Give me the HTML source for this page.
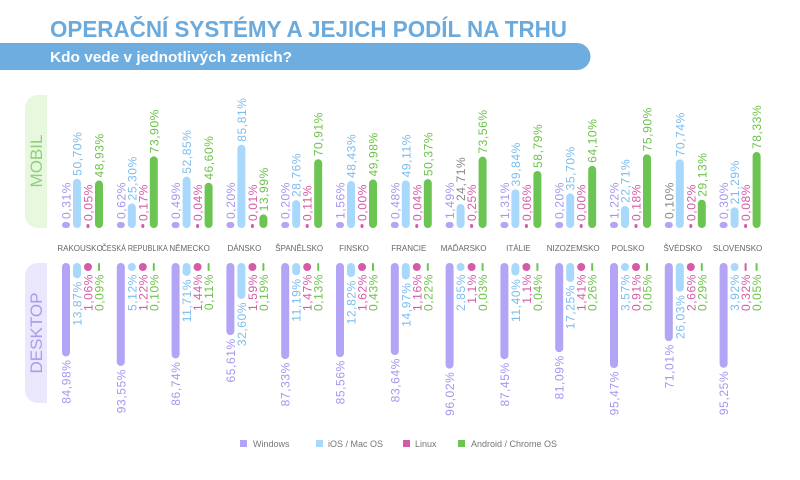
<!DOCTYPE html>
<html><head><meta charset="utf-8"><style>
body{margin:0;background:#fff;}
svg{display:block;font-family:"Liberation Sans",sans-serif;}
</style></head><body>
<svg id="s" width="800" height="480" xmlns="http://www.w3.org/2000/svg">
<text x="50" y="37" font-size="23" font-weight="bold" fill="#6aaadc" textLength="517" lengthAdjust="spacingAndGlyphs">OPERAČNÍ SYSTÉMY A JEJICH PODÍL NA TRHU</text>
<path d="M0 43 H577 a13.5 13.5 0 0 1 0 27 H0 Z" fill="#6eaddf"/>
<text x="50" y="62" font-size="14.5" font-weight="bold" fill="#fff" textLength="242" lengthAdjust="spacingAndGlyphs">Kdo vede v jednotlivých zemích?</text>
<path d="M47 95 H38 a13 13 0 0 0 -13 13 V215 a13 13 0 0 0 13 13 H47 Z" fill="#e7f8de"/>
<text transform="translate(42,161) rotate(-90)" text-anchor="middle" font-size="17" fill="#8fd07a">MOBIL</text>
<path d="M47 263 H38 a13 13 0 0 0 -13 13 V390 a13 13 0 0 0 13 13 H47 Z" fill="#ebe7fc"/>
<text transform="translate(42,333) rotate(-90)" text-anchor="middle" font-size="17" fill="#a99cf0">DESKTOP</text>
<g id="g"></g>
<g font-size="9" fill="#777">
<rect x="240" y="440" width="7" height="7" fill="#b3a4f5"/><text x="253" y="447">Windows</text>
<rect x="316" y="440" width="7" height="7" fill="#a8d8fb"/><text x="328" y="447">iOS / Mac OS</text>
<rect x="403" y="440" width="7" height="7" fill="#d65ba7"/><text x="415" y="447">Linux</text>
<rect x="458" y="440" width="7" height="7" fill="#6cc552"/><text x="471" y="447">Android / Chrome OS</text>
</g>
</svg>
<script>
var names=["RAKOUSKO","ČESKÁ REPUBLIKA","NĚMECKO","DÁNSKO","ŠPANĚLSKO","FINSKO","FRANCIE","MAĎARSKO","ITÁLIE","NIZOZEMSKO","POLSKO","ŠVÉDSKO","SLOVENSKO"];
var mob=[["0,31","50,70","0,05","48,93"],["0,62","25,30","0,17","73,90"],["0,49","52,85","0,04","46,60"],["0,20","85,81","0,01","13,99"],["0,20","28,76","0,11","70,91"],["1,56","48,43","0,00","49,98"],["0,48","49,11","0,04","50,37"],["1,49","24,71","0,25","73,56"],["1,31","39,84","0,06","58,79"],["0,20","35,70","0,00","64,10"],["1,22","22,71","0,18","75,90"],["0,10","70,74","0,02","29,13"],["0,30","21,29","0,08","78,33"]];
var desk=[["84,98","13,87","1,06","0,09"],["93,55","5,12","1,22","0,10"],["86,74","11,71","1,44","0,11"],["65,61","32,60","1,59","0,19"],["87,33","11,19","1,47","0,13"],["85,56","12,82","1,62","0,43"],["83,64","14,97","1,16","0,22"],["96,02","2,85","1,1","0,03"],["87,45","11,40","1,1","0,04"],["81,09","17,25","1,41","0,26"],["95,47","3,57","0,91","0,05"],["71,01","26,03","2,66","0,29"],["95,25","3,92","0,32","0,05"]];
var bar=["#b3a4f5","#a8d8fb","#d65ba7","#6cc552"],tc=["#a596ee","#7cbcec","#d55aa8","#6cc24a"];
var o="";
for(var i=0;i<13;i++){
 var gx=62+i*54.8;
 var tl=(i==1)?' textLength="66" lengthAdjust="spacingAndGlyphs"':'';
 o+='<text x="'+(gx+18)+'" y="251" font-size="8" fill="#666" text-anchor="middle"'+tl+'>'+names[i]+'</text>';
 for(var k=0;k<4;k++){
  var x=gx+k*11,cx=x+4;
  var v=parseFloat(mob[i][k].replace(",","."));
  var h=Math.max(v*0.97,k==2?4:6),w=8,xx=x;
  if(v<0.3&&k>=2){w=3;xx=cx-1.5;}
  var y=228-h;
  o+='<rect x="'+xx+'" y="'+y+'" width="'+w+'" height="'+h+'" rx="'+Math.min(w/2,h/2)+'" fill="'+bar[k]+'"/>';
  var col=((i==7&&k==1)||(i==11&&k==0))?"#888":tc[k];
  o+='<text transform="translate('+(cx+4.5)+','+(y-3)+') rotate(-90)" font-size="12" letter-spacing="0.6" fill="'+col+'">'+mob[i][k]+'%</text>';
  v=parseFloat(desk[i][k].replace(",","."));
  h=Math.max(v*1.1,8);w=8;xx=x;
  if(v<0.5){w=2;xx=cx-1;}
  o+='<rect x="'+xx+'" y="263" width="'+w+'" height="'+h+'" rx="'+Math.min(w/2,h/2)+'" fill="'+bar[k]+'"/>';
  o+='<text transform="translate('+(cx+4.5)+','+(263+h+3)+') rotate(-90)" text-anchor="end" font-size="12" letter-spacing="0.6" fill="'+tc[k]+'">'+desk[i][k]+'%</text>';
 }
}
document.getElementById("g").innerHTML=o;
</script>
</body></html>
